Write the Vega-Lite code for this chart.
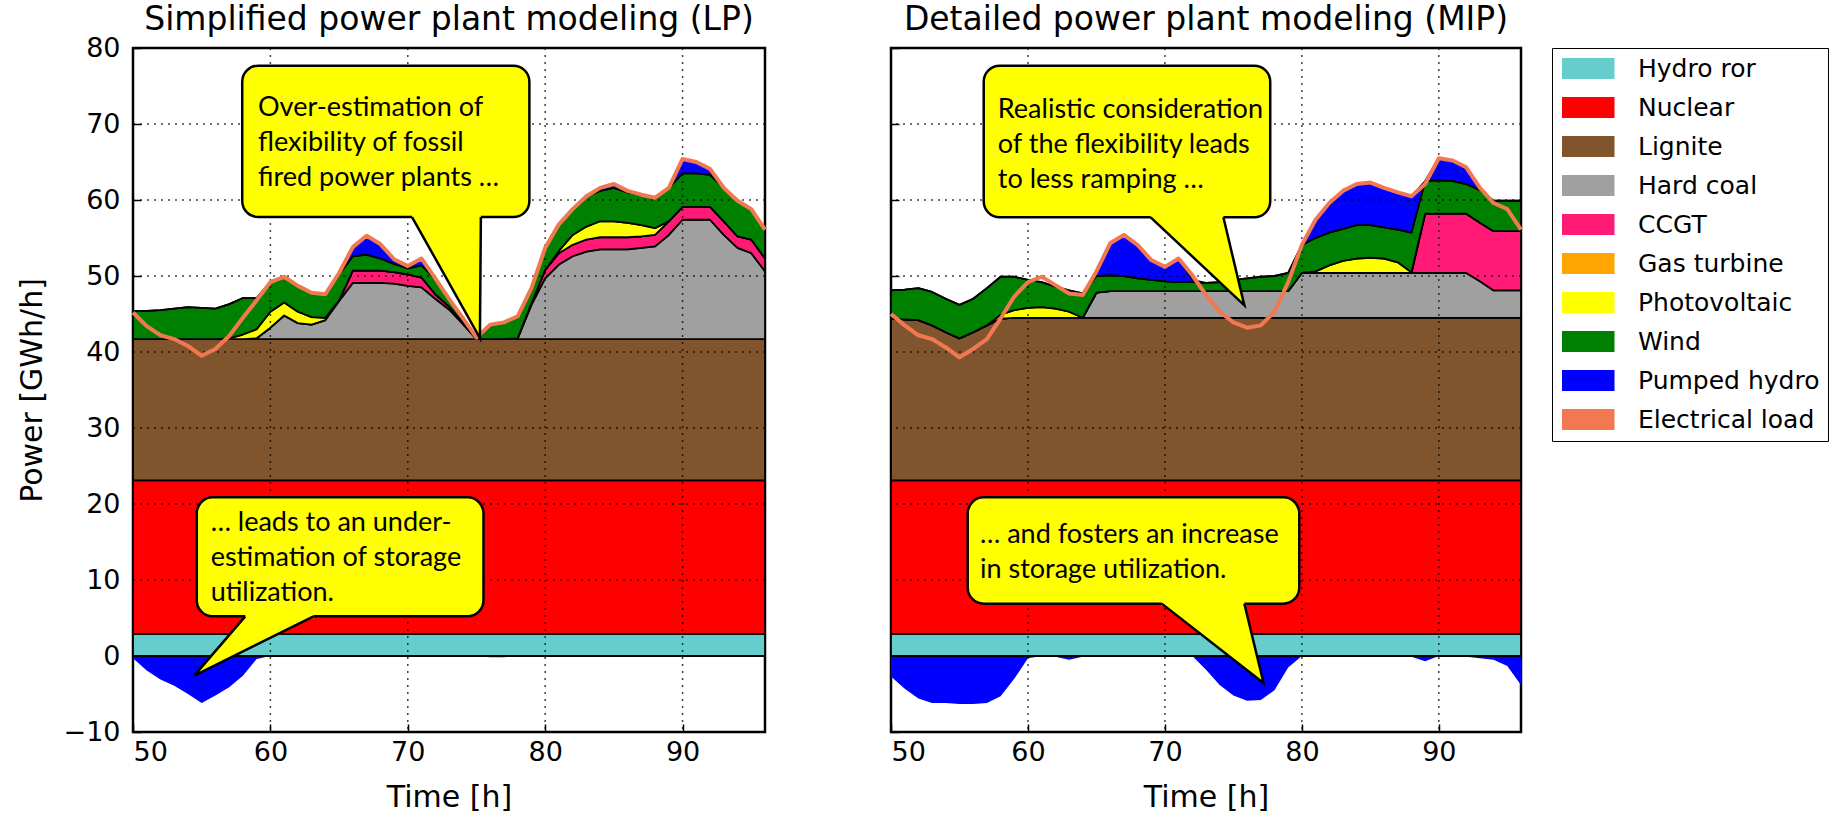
{
"$schema": "https://vega.github.io/schema/vega-lite/v6.json",
"background": "white",
"padding": {"left": 15, "top": 2, "right": 0, "bottom": 0},
"datasets": {
"techs": [
{"key":"hydro","tech":"Hydro ror","ord":1},{"key":"nuclear","tech":"Nuclear","ord":2},{"key":"lignite","tech":"Lignite","ord":3},{"key":"coal","tech":"Hard coal","ord":4},{"key":"ccgt","tech":"CCGT","ord":5},{"key":"pv","tech":"Photovoltaic","ord":7},{"key":"wind","tech":"Wind","ord":8},{"key":"pumped","tech":"Pumped hydro","ord":9}
],
"gen": [
{"panel":"LP","h":50,"hydro":2.9,"nuclear":20.2,"lignite":18.6,"coal":0,"ccgt":0,"pv":0,"wind":3.7,"pumped":0,"neg":-0.3,"load":45.2},
{"panel":"LP","h":51,"hydro":2.9,"nuclear":20.2,"lignite":18.6,"coal":0,"ccgt":0,"pv":0,"wind":3.7,"pumped":0,"neg":-1.9,"load":43.4},
{"panel":"LP","h":52,"hydro":2.9,"nuclear":20.2,"lignite":18.6,"coal":0,"ccgt":0,"pv":0,"wind":3.8,"pumped":0,"neg":-3.1,"load":42.2},
{"panel":"LP","h":53,"hydro":2.9,"nuclear":20.2,"lignite":18.6,"coal":0,"ccgt":0,"pv":0,"wind":4.0,"pumped":0,"neg":-3.9,"load":41.7},
{"panel":"LP","h":54,"hydro":2.9,"nuclear":20.2,"lignite":18.6,"coal":0,"ccgt":0,"pv":0,"wind":4.2,"pumped":0,"neg":-5.0,"load":40.8},
{"panel":"LP","h":55,"hydro":2.9,"nuclear":20.2,"lignite":18.6,"coal":0,"ccgt":0,"pv":0,"wind":4.1,"pumped":0,"neg":-6.2,"load":39.5},
{"panel":"LP","h":56,"hydro":2.9,"nuclear":20.2,"lignite":18.6,"coal":0,"ccgt":0,"pv":0,"wind":4.0,"pumped":0,"neg":-5.2,"load":40.4},
{"panel":"LP","h":57,"hydro":2.9,"nuclear":20.2,"lignite":18.6,"coal":0,"ccgt":0,"pv":0.1,"wind":4.5,"pumped":0,"neg":-4.1,"load":42.1},
{"panel":"LP","h":58,"hydro":2.9,"nuclear":20.2,"lignite":18.6,"coal":0,"ccgt":0,"pv":0.6,"wind":4.8,"pumped":0,"neg":-2.6,"load":44.5},
{"panel":"LP","h":59,"hydro":2.9,"nuclear":20.2,"lignite":18.6,"coal":0.1,"ccgt":0,"pv":1.2,"wind":4.1,"pumped":0,"neg":-0.4,"load":46.8},
{"panel":"LP","h":60,"hydro":2.9,"nuclear":20.2,"lignite":18.6,"coal":1.5,"ccgt":0,"pv":2.1,"wind":3.9,"pumped":0,"neg":0,"load":49.2},
{"panel":"LP","h":61,"hydro":2.9,"nuclear":20.2,"lignite":18.6,"coal":3.1,"ccgt":0,"pv":1.7,"wind":3.4,"pumped":0,"neg":0,"load":49.9},
{"panel":"LP","h":62,"hydro":2.9,"nuclear":20.2,"lignite":18.6,"coal":2.1,"ccgt":0,"pv":1.5,"wind":3.4,"pumped":0,"neg":0,"load":48.7},
{"panel":"LP","h":63,"hydro":2.9,"nuclear":20.2,"lignite":18.6,"coal":1.9,"ccgt":0,"pv":1.0,"wind":3.2,"pumped":0,"neg":0,"load":47.8},
{"panel":"LP","h":64,"hydro":2.9,"nuclear":20.2,"lignite":18.6,"coal":2.5,"ccgt":0,"pv":0.3,"wind":3.1,"pumped":0,"neg":0,"load":47.6},
{"panel":"LP","h":65,"hydro":2.9,"nuclear":20.2,"lignite":18.6,"coal":5.0,"ccgt":0.1,"pv":0,"wind":3.4,"pumped":0.1,"neg":0,"load":50.4},
{"panel":"LP","h":66,"hydro":2.9,"nuclear":20.2,"lignite":18.6,"coal":7.4,"ccgt":1.6,"pv":0,"wind":1.9,"pumped":1.1,"neg":0,"load":53.8},
{"panel":"LP","h":67,"hydro":2.9,"nuclear":20.2,"lignite":18.6,"coal":7.4,"ccgt":1.6,"pv":0,"wind":2.1,"pumped":2.5,"neg":0,"load":55.3},
{"panel":"LP","h":68,"hydro":2.9,"nuclear":20.2,"lignite":18.6,"coal":7.4,"ccgt":1.6,"pv":0,"wind":1.6,"pumped":1.9,"neg":0,"load":54.2},
{"panel":"LP","h":69,"hydro":2.9,"nuclear":20.2,"lignite":18.6,"coal":7.3,"ccgt":1.5,"pv":0,"wind":1.1,"pumped":0.6,"neg":0,"load":52.2},
{"panel":"LP","h":70,"hydro":2.9,"nuclear":20.2,"lignite":18.6,"coal":7.0,"ccgt":1.5,"pv":0,"wind":0.8,"pumped":0.3,"neg":0,"load":51.3},
{"panel":"LP","h":71,"hydro":2.9,"nuclear":20.2,"lignite":18.6,"coal":6.8,"ccgt":1.3,"pv":0,"wind":1.6,"pumped":0.9,"neg":0,"load":52.3},
{"panel":"LP","h":72,"hydro":2.9,"nuclear":20.2,"lignite":18.6,"coal":5.3,"ccgt":0.6,"pv":0,"wind":2.0,"pumped":0.1,"neg":0,"load":49.7},
{"panel":"LP","h":73,"hydro":2.9,"nuclear":20.2,"lignite":18.6,"coal":3.9,"ccgt":0.4,"pv":0,"wind":0.9,"pumped":0.1,"neg":0,"load":47.0},
{"panel":"LP","h":74,"hydro":2.9,"nuclear":20.2,"lignite":18.6,"coal":2.0,"ccgt":0.2,"pv":0,"wind":0.5,"pumped":0.1,"neg":0,"load":44.5},
{"panel":"LP","h":75,"hydro":2.9,"nuclear":20.2,"lignite":18.6,"coal":0,"ccgt":0,"pv":0,"wind":0.2,"pumped":0,"neg":0,"load":41.9},
{"panel":"LP","h":76,"hydro":2.9,"nuclear":20.2,"lignite":18.6,"coal":0,"ccgt":0,"pv":0,"wind":1.9,"pumped":0,"neg":-0.15,"load":43.6},
{"panel":"LP","h":77,"hydro":2.9,"nuclear":20.2,"lignite":18.6,"coal":0,"ccgt":0,"pv":0,"wind":2.2,"pumped":0,"neg":-0.15,"load":43.9},
{"panel":"LP","h":78,"hydro":2.9,"nuclear":20.2,"lignite":18.6,"coal":0.1,"ccgt":0,"pv":0,"wind":2.9,"pumped":0,"neg":0,"load":44.7},
{"panel":"LP","h":79,"hydro":2.9,"nuclear":20.2,"lignite":18.6,"coal":4.5,"ccgt":0.2,"pv":0,"wind":2.0,"pumped":0,"neg":0,"load":48.4},
{"panel":"LP","h":80,"hydro":2.9,"nuclear":20.2,"lignite":18.6,"coal":8.0,"ccgt":1.1,"pv":0,"wind":2.8,"pumped":0.1,"neg":0,"load":53.7},
{"panel":"LP","h":81,"hydro":2.9,"nuclear":20.2,"lignite":18.6,"coal":9.8,"ccgt":1.5,"pv":0.3,"wind":3.5,"pumped":0,"neg":0,"load":56.8},
{"panel":"LP","h":82,"hydro":2.9,"nuclear":20.2,"lignite":18.6,"coal":10.9,"ccgt":1.5,"pv":1.3,"wind":3.4,"pumped":0,"neg":0,"load":58.8},
{"panel":"LP","h":83,"hydro":2.9,"nuclear":20.2,"lignite":18.6,"coal":11.5,"ccgt":1.6,"pv":1.7,"wind":4.0,"pumped":0,"neg":0,"load":60.5},
{"panel":"LP","h":84,"hydro":2.9,"nuclear":20.2,"lignite":18.6,"coal":11.8,"ccgt":1.6,"pv":2.1,"wind":4.0,"pumped":0.4,"neg":0,"load":61.6},
{"panel":"LP","h":85,"hydro":2.9,"nuclear":20.2,"lignite":18.6,"coal":11.8,"ccgt":1.6,"pv":2.1,"wind":4.4,"pumped":0.5,"neg":0,"load":62.1},
{"panel":"LP","h":86,"hydro":2.9,"nuclear":20.2,"lignite":18.6,"coal":11.8,"ccgt":1.6,"pv":1.9,"wind":4.0,"pumped":0.2,"neg":0,"load":61.2},
{"panel":"LP","h":87,"hydro":2.9,"nuclear":20.2,"lignite":18.6,"coal":12.0,"ccgt":1.5,"pv":1.5,"wind":4.0,"pumped":0,"neg":0,"load":60.7},
{"panel":"LP","h":88,"hydro":2.9,"nuclear":20.2,"lignite":18.6,"coal":12.2,"ccgt":1.5,"pv":0.9,"wind":4.0,"pumped":0,"neg":0,"load":60.3},
{"panel":"LP","h":89,"hydro":2.9,"nuclear":20.2,"lignite":18.6,"coal":13.7,"ccgt":1.8,"pv":0,"wind":4.4,"pumped":0,"neg":0,"load":61.6},
{"panel":"LP","h":90,"hydro":2.9,"nuclear":20.2,"lignite":18.6,"coal":15.7,"ccgt":1.7,"pv":0,"wind":4.4,"pumped":1.9,"neg":0,"load":65.4},
{"panel":"LP","h":91,"hydro":2.9,"nuclear":20.2,"lignite":18.6,"coal":15.7,"ccgt":1.7,"pv":0,"wind":4.4,"pumped":1.5,"neg":0,"load":65.0},
{"panel":"LP","h":92,"hydro":2.9,"nuclear":20.2,"lignite":18.6,"coal":15.7,"ccgt":1.7,"pv":0,"wind":4.2,"pumped":0.8,"neg":0,"load":64.1},
{"panel":"LP","h":93,"hydro":2.9,"nuclear":20.2,"lignite":18.6,"coal":13.7,"ccgt":1.8,"pv":0,"wind":4.4,"pumped":0,"neg":0,"load":61.6},
{"panel":"LP","h":94,"hydro":2.9,"nuclear":20.2,"lignite":18.6,"coal":12.0,"ccgt":1.5,"pv":0,"wind":4.7,"pumped":0,"neg":0,"load":59.9},
{"panel":"LP","h":95,"hydro":2.9,"nuclear":20.2,"lignite":18.6,"coal":11.3,"ccgt":1.8,"pv":0,"wind":4.0,"pumped":0,"neg":0,"load":58.8},
{"panel":"LP","h":96,"hydro":2.9,"nuclear":20.2,"lignite":18.6,"coal":8.9,"ccgt":1.7,"pv":0,"wind":3.8,"pumped":0,"neg":0,"load":56.1},
{"panel":"MIP","h":50,"hydro":2.9,"nuclear":20.2,"lignite":21.3,"coal":0,"ccgt":0,"pv":0,"wind":3.7,"pumped":0,"neg":-2.7,"load":45.0},
{"panel":"MIP","h":51,"hydro":2.9,"nuclear":20.2,"lignite":21.2,"coal":0,"ccgt":0,"pv":0,"wind":3.9,"pumped":0,"neg":-4.3,"load":43.5},
{"panel":"MIP","h":52,"hydro":2.9,"nuclear":20.2,"lignite":21.1,"coal":0,"ccgt":0,"pv":0,"wind":4.2,"pumped":0,"neg":-5.6,"load":42.2},
{"panel":"MIP","h":53,"hydro":2.9,"nuclear":20.2,"lignite":20.4,"coal":0,"ccgt":0,"pv":0,"wind":4.4,"pumped":0,"neg":-6.2,"load":41.7},
{"panel":"MIP","h":54,"hydro":2.9,"nuclear":20.2,"lignite":19.5,"coal":0,"ccgt":0,"pv":0,"wind":4.4,"pumped":0,"neg":-6.2,"load":40.6},
{"panel":"MIP","h":55,"hydro":2.9,"nuclear":20.2,"lignite":18.7,"coal":0,"ccgt":0,"pv":0,"wind":4.4,"pumped":0,"neg":-6.3,"load":39.3},
{"panel":"MIP","h":56,"hydro":2.9,"nuclear":20.2,"lignite":19.5,"coal":0,"ccgt":0,"pv":0,"wind":4.4,"pumped":0,"neg":-6.3,"load":40.4},
{"panel":"MIP","h":57,"hydro":2.9,"nuclear":20.2,"lignite":20.4,"coal":0,"ccgt":0,"pv":0,"wind":4.9,"pumped":0,"neg":-6.2,"load":41.7},
{"panel":"MIP","h":58,"hydro":2.9,"nuclear":20.2,"lignite":21.3,"coal":0,"ccgt":0,"pv":0.5,"wind":5.0,"pumped":0,"neg":-5.3,"load":44.4},
{"panel":"MIP","h":59,"hydro":2.9,"nuclear":20.2,"lignite":21.4,"coal":0,"ccgt":0,"pv":1.0,"wind":4.4,"pumped":0,"neg":-3.0,"load":47.3},
{"panel":"MIP","h":60,"hydro":2.9,"nuclear":20.2,"lignite":21.4,"coal":0,"ccgt":0,"pv":1.3,"wind":3.7,"pumped":0,"neg":-0.3,"load":49.2},
{"panel":"MIP","h":61,"hydro":2.9,"nuclear":20.2,"lignite":21.4,"coal":0,"ccgt":0,"pv":1.4,"wind":3.3,"pumped":0,"neg":0,"load":49.9},
{"panel":"MIP","h":62,"hydro":2.9,"nuclear":20.2,"lignite":21.4,"coal":0,"ccgt":0,"pv":1.2,"wind":2.9,"pumped":0,"neg":-0.1,"load":48.8},
{"panel":"MIP","h":63,"hydro":2.9,"nuclear":20.2,"lignite":21.4,"coal":0,"ccgt":0,"pv":0.8,"wind":2.8,"pumped":0,"neg":-0.5,"load":47.7},
{"panel":"MIP","h":64,"hydro":2.9,"nuclear":20.2,"lignite":21.4,"coal":0,"ccgt":0,"pv":0,"wind":3.2,"pumped":0,"neg":-0.1,"load":47.5},
{"panel":"MIP","h":65,"hydro":2.9,"nuclear":20.2,"lignite":21.4,"coal":3.3,"ccgt":0,"pv":0,"wind":2.2,"pumped":0.6,"neg":0,"load":50.6},
{"panel":"MIP","h":66,"hydro":2.9,"nuclear":20.2,"lignite":21.4,"coal":3.5,"ccgt":0,"pv":0,"wind":2.1,"pumped":4.2,"neg":0,"load":54.3},
{"panel":"MIP","h":67,"hydro":2.9,"nuclear":20.2,"lignite":21.4,"coal":3.5,"ccgt":0,"pv":0,"wind":2.0,"pumped":5.4,"neg":0,"load":55.4},
{"panel":"MIP","h":68,"hydro":2.9,"nuclear":20.2,"lignite":21.4,"coal":3.5,"ccgt":0,"pv":0,"wind":1.7,"pumped":4.4,"neg":0,"load":54.1},
{"panel":"MIP","h":69,"hydro":2.9,"nuclear":20.2,"lignite":21.4,"coal":3.5,"ccgt":0,"pv":0,"wind":1.5,"pumped":2.6,"neg":0,"load":52.1},
{"panel":"MIP","h":70,"hydro":2.9,"nuclear":20.2,"lignite":21.4,"coal":3.5,"ccgt":0,"pv":0,"wind":1.3,"pumped":1.9,"neg":0,"load":51.2},
{"panel":"MIP","h":71,"hydro":2.9,"nuclear":20.2,"lignite":21.4,"coal":3.5,"ccgt":0,"pv":0,"wind":1.2,"pumped":3.1,"neg":0,"load":52.3},
{"panel":"MIP","h":72,"hydro":2.9,"nuclear":20.2,"lignite":21.4,"coal":3.5,"ccgt":0,"pv":0,"wind":1.2,"pumped":0.3,"neg":0,"load":50.1},
{"panel":"MIP","h":73,"hydro":2.9,"nuclear":20.2,"lignite":21.4,"coal":3.5,"ccgt":0,"pv":0,"wind":1.1,"pumped":0,"neg":-1.8,"load":47.5},
{"panel":"MIP","h":74,"hydro":2.9,"nuclear":20.2,"lignite":21.4,"coal":3.5,"ccgt":0,"pv":0,"wind":1.2,"pumped":0,"neg":-3.8,"load":45.3},
{"panel":"MIP","h":75,"hydro":2.9,"nuclear":20.2,"lignite":21.4,"coal":3.5,"ccgt":0,"pv":0,"wind":1.5,"pumped":0,"neg":-5.2,"load":43.9},
{"panel":"MIP","h":76,"hydro":2.9,"nuclear":20.2,"lignite":21.4,"coal":3.5,"ccgt":0,"pv":0,"wind":1.7,"pumped":0,"neg":-5.9,"load":43.2},
{"panel":"MIP","h":77,"hydro":2.9,"nuclear":20.2,"lignite":21.4,"coal":3.5,"ccgt":0,"pv":0,"wind":1.9,"pumped":0,"neg":-5.8,"load":43.5},
{"panel":"MIP","h":78,"hydro":2.9,"nuclear":20.2,"lignite":21.4,"coal":3.5,"ccgt":0,"pv":0,"wind":2.0,"pumped":0,"neg":-4.5,"load":45.3},
{"panel":"MIP","h":79,"hydro":2.9,"nuclear":20.2,"lignite":21.4,"coal":3.5,"ccgt":0,"pv":0,"wind":2.4,"pumped":0,"neg":-1.5,"load":49.2},
{"panel":"MIP","h":80,"hydro":2.9,"nuclear":20.2,"lignite":21.4,"coal":5.9,"ccgt":0,"pv":0,"wind":3.7,"pumped":0,"neg":0,"load":54.1},
{"panel":"MIP","h":81,"hydro":2.9,"nuclear":20.2,"lignite":21.4,"coal":5.9,"ccgt":0,"pv":0.2,"wind":4.4,"pumped":2.4,"neg":0,"load":57.4},
{"panel":"MIP","h":82,"hydro":2.9,"nuclear":20.2,"lignite":21.4,"coal":5.9,"ccgt":0,"pv":1.0,"wind":4.3,"pumped":3.9,"neg":0,"load":59.6},
{"panel":"MIP","h":83,"hydro":2.9,"nuclear":20.2,"lignite":21.4,"coal":5.9,"ccgt":0,"pv":1.6,"wind":4.2,"pumped":5.0,"neg":0,"load":61.2},
{"panel":"MIP","h":84,"hydro":2.9,"nuclear":20.2,"lignite":21.4,"coal":5.9,"ccgt":0,"pv":1.9,"wind":4.4,"pumped":5.4,"neg":0,"load":62.1},
{"panel":"MIP","h":85,"hydro":2.9,"nuclear":20.2,"lignite":21.4,"coal":5.9,"ccgt":0,"pv":2.0,"wind":4.3,"pumped":5.6,"neg":0,"load":62.3},
{"panel":"MIP","h":86,"hydro":2.9,"nuclear":20.2,"lignite":21.4,"coal":5.9,"ccgt":0,"pv":1.9,"wind":4.1,"pumped":5.2,"neg":0,"load":61.6},
{"panel":"MIP","h":87,"hydro":2.9,"nuclear":20.2,"lignite":21.4,"coal":5.9,"ccgt":0,"pv":1.4,"wind":4.3,"pumped":4.9,"neg":0,"load":61.0},
{"panel":"MIP","h":88,"hydro":2.9,"nuclear":20.2,"lignite":21.4,"coal":5.9,"ccgt":0,"pv":0.1,"wind":5.2,"pumped":4.8,"neg":-0.1,"load":60.5},
{"panel":"MIP","h":89,"hydro":2.9,"nuclear":20.2,"lignite":21.4,"coal":5.9,"ccgt":7.8,"pv":0,"wind":4.3,"pumped":0,"neg":-0.7,"load":62.1},
{"panel":"MIP","h":90,"hydro":2.9,"nuclear":20.2,"lignite":21.4,"coal":5.9,"ccgt":7.8,"pv":0,"wind":4.4,"pumped":2.9,"neg":0,"load":65.5},
{"panel":"MIP","h":91,"hydro":2.9,"nuclear":20.2,"lignite":21.4,"coal":5.9,"ccgt":7.8,"pv":0,"wind":4.3,"pumped":2.7,"neg":0,"load":65.2},
{"panel":"MIP","h":92,"hydro":2.9,"nuclear":20.2,"lignite":21.4,"coal":5.9,"ccgt":7.8,"pv":0,"wind":3.9,"pumped":2.2,"neg":-0.1,"load":64.3},
{"panel":"MIP","h":93,"hydro":2.9,"nuclear":20.2,"lignite":21.4,"coal":4.8,"ccgt":7.7,"pv":0,"wind":4.3,"pumped":0,"neg":-0.3,"load":61.6},
{"panel":"MIP","h":94,"hydro":2.9,"nuclear":20.2,"lignite":21.4,"coal":3.6,"ccgt":7.8,"pv":0,"wind":4.0,"pumped":0,"neg":-0.5,"load":59.6},
{"panel":"MIP","h":95,"hydro":2.9,"nuclear":20.2,"lignite":21.4,"coal":3.6,"ccgt":7.8,"pv":0,"wind":4.0,"pumped":0,"neg":-1.3,"load":58.8},
{"panel":"MIP","h":96,"hydro":2.9,"nuclear":20.2,"lignite":21.4,"coal":3.6,"ccgt":7.8,"pv":0,"wind":4.0,"pumped":0,"neg":-3.8,"load":56.1}
],
"gridx": [{"g":60},{"g":70},{"g":80},{"g":90}],
"gridy": [{"g":-10},{"g":10},{"g":20},{"g":30},{"g":40},{"g":50},{"g":60},{"g":70}],
"bubbles": [
{"panel":"LP","id":"a","bx":57.95,"bx2":78.85,"by":57.76,"by2":77.67,"tx1":70.31,"tx2":75.32},
{"panel":"LP","id":"b","bx":54.64,"bx2":75.51,"by":5.22,"by2":20.88,"tx1":58.17,"tx2":63.14},
{"panel":"MIP","id":"c","bx":56.77,"bx2":77.69,"by":57.72,"by2":77.67,"tx1":68.96,"tx2":74.27},
{"panel":"MIP","id":"d","bx":55.6,"bx2":79.81,"by":6.89,"by2":20.88,"tx1":69.77,"tx2":75.8}
],
"tailArea": [
{"panel":"LP","id":"a","ty":57.76,"txa":70.31,"txb":75.32},{"panel":"LP","id":"a","ty":41.84,"txa":75.25,"txb":75.25},
{"panel":"LP","id":"b","ty":5.22,"txa":58.17,"txb":63.14},{"panel":"LP","id":"b","ty":-2.59,"txa":54.46,"txb":54.46},
{"panel":"MIP","id":"c","ty":57.72,"txa":68.96,"txb":74.27},{"panel":"MIP","id":"c","ty":46.14,"txa":75.8,"txb":75.8},
{"panel":"MIP","id":"d","ty":6.89,"txa":69.77,"txb":75.8},{"panel":"MIP","id":"d","ty":-3.55,"txa":77.2,"txb":77.2}
],
"tailLine": [
{"panel":"LP","id":"a","seq":1,"lx":70.31,"ly":57.76},{"panel":"LP","id":"a","seq":2,"lx":75.25,"ly":41.84},{"panel":"LP","id":"a","seq":3,"lx":75.32,"ly":57.76},
{"panel":"LP","id":"b","seq":1,"lx":58.17,"ly":5.22},{"panel":"LP","id":"b","seq":2,"lx":54.46,"ly":-2.59},{"panel":"LP","id":"b","seq":3,"lx":63.14,"ly":5.22},
{"panel":"MIP","id":"c","seq":1,"lx":68.96,"ly":57.72},{"panel":"MIP","id":"c","seq":2,"lx":75.8,"ly":46.14},{"panel":"MIP","id":"c","seq":3,"lx":74.27,"ly":57.72},
{"panel":"MIP","id":"d","seq":1,"lx":69.77,"ly":6.89},{"panel":"MIP","id":"d","seq":2,"lx":77.2,"ly":-3.55},{"panel":"MIP","id":"d","seq":3,"lx":75.8,"ly":6.89}
],
"notes": [
{"panel":"LP","nx":59.1,"ny":71.0,"lines":["Over-estimation of","flexibility of fossil","fired power plants …"]},
{"panel":"LP","nx":55.65,"ny":16.4,"lines":["… leads to an under-","estimation of storage","utilization."]},
{"panel":"MIP","nx":57.8,"ny":70.8,"lines":["Realistic consideration","of the flexibility leads","to less ramping …"]},
{"panel":"MIP","nx":56.5,"ny":14.9,"lines":["… and fosters an increase","in storage utilization."]}
]
},
"hconcat": [
{
"title": {"text": "Simplified power plant modeling (LP)"},
"width": 632, "height": 684,
"layer": [
{"data": {"name": "gen"}, "transform": [{"filter": "datum.panel === 'LP'"}],
 "mark": {"type": "area", "color": "#0000ff", "opacity": 1},
 "encoding": {"x": {"field": "h", "type": "quantitative", "scale": {"domain": [50, 96], "nice": false, "zero": false}},
  "y": {"field": "neg", "type": "quantitative", "stack": null, "scale": {"domain": [-10, 80], "nice": false, "zero": false}}}},
{"data": {"name": "gen"},
 "transform": [{"filter": "datum.panel === 'LP'"}, {"fold": ["hydro","nuclear","lignite","coal","ccgt","pv","wind","pumped"], "as": ["key","val"]}, {"lookup": "key", "from": {"data": {"name": "techs"}, "key": "key", "fields": ["tech","ord"]}}],
 "mark": {"type": "area", "stroke": "black", "strokeWidth": 1.8, "opacity": 1, "strokeJoin": "round"},
 "encoding": {
  "x": {"field": "h", "type": "quantitative", "scale": {"domain": [50, 96], "nice": false, "zero": false}, "axis": {"title": "Time [h]", "values": [50,60,70,80,90], "labelPadding": 15, "titlePadding": 17}},
  "y": {"field": "val", "type": "quantitative", "stack": "zero", "scale": {"domain": [-10, 80], "nice": false, "zero": false}, "axis": {"title": "Power [GWh/h]", "values": [-10,0,10,20,30,40,50,60,70,80], "labelPadding": 21, "titlePadding": 16}},
  "color": {"field": "tech", "type": "nominal",
   "scale": {"domain": ["Hydro ror","Nuclear","Lignite","Hard coal","CCGT","Gas turbine","Photovoltaic","Wind","Pumped hydro","Electrical load"],
             "range": ["#66cccc","#ff0000","#80552e","#a0a0a0","#ff1a75","#ffa500","#ffff00","#008000","#0000ff","#f27852"]},
   "legend": {"title": null, "orient": "right", "offset": 27, "symbolType": "M-1,-1H4V1H-1Z", "symbolSize": 441, "symbolStrokeWidth": 0, "symbolOpacity": 1, "labelOffset": 53, "rowPadding": 13, "padding": 8, "strokeColor": "black", "fillColor": "white", "labelFont": "DejaVu Sans", "labelFontSize": 25, "labelColor": "black", "labelLimit": 400,
     "encode": {"symbols": {"update": {"shape": {"signal": "datum.value === 'Electrical load' ? 'M-1,-0.28H4V0.28H-1Z' : 'M-1,-1H4V1H-1Z'"}, "strokeWidth": {"value": 0}}}, "legend": {"update": {"strokeWidth": {"value": 1.5}}}}}},
  "order": {"field": "ord", "type": "quantitative"}
 }},
{"data": {"name": "gridx"}, "mark": {"type": "rule", "color": "black", "strokeDash": [2, 5], "strokeWidth": 1.5, "opacity": 0.75},
 "encoding": {"x": {"field": "g", "type": "quantitative", "scale": {"domain": [50, 96], "nice": false, "zero": false}}}},
{"data": {"name": "gridy"}, "mark": {"type": "rule", "color": "black", "strokeDash": [2, 5], "strokeWidth": 1.5, "opacity": 0.75},
 "encoding": {"y": {"field": "g", "type": "quantitative", "scale": {"domain": [-10, 80], "nice": false, "zero": false}}}},
{"data": {"name": "gen"}, "transform": [{"filter": "datum.panel === 'LP'"}],
 "mark": {"type": "line", "color": "#f27852", "strokeWidth": 4, "strokeJoin": "round"},
 "encoding": {"x": {"field": "h", "type": "quantitative", "scale": {"domain": [50, 96], "nice": false, "zero": false}},
  "y": {"field": "load", "type": "quantitative", "scale": {"domain": [-10, 80], "nice": false, "zero": false}}}},
{"data": {"name": "bubbles"}, "transform": [{"filter": "datum.panel === 'LP'"}],
 "mark": {"type": "rect", "fill": "#ffff00", "stroke": "black", "strokeWidth": 2.5, "cornerRadius": 16},
 "encoding": {"x": {"field": "bx", "type": "quantitative", "scale": {"domain": [50, 96], "nice": false, "zero": false}}, "x2": {"field": "bx2"},
  "y": {"field": "by", "type": "quantitative", "scale": {"domain": [-10, 80], "nice": false, "zero": false}}, "y2": {"field": "by2"}}},
{"data": {"name": "tailArea"}, "transform": [{"filter": "datum.panel === 'LP'"}],
 "mark": {"type": "area", "orient": "horizontal", "fill": "#ffff00", "opacity": 1},
 "encoding": {"y": {"field": "ty", "type": "quantitative", "scale": {"domain": [-10, 80], "nice": false, "zero": false}},
  "x": {"field": "txa", "type": "quantitative", "stack": null, "scale": {"domain": [50, 96], "nice": false, "zero": false}}, "x2": {"field": "txb"}, "detail": {"field": "id"}}},
{"data": {"name": "bubbles"}, "transform": [{"filter": "datum.panel === 'LP'"}],
 "mark": {"type": "rule", "color": "#ffff00", "strokeWidth": 4},
 "encoding": {"x": {"field": "tx1", "type": "quantitative", "scale": {"domain": [50, 96], "nice": false, "zero": false}}, "x2": {"field": "tx2"},
  "y": {"field": "by", "type": "quantitative", "scale": {"domain": [-10, 80], "nice": false, "zero": false}}}},
{"data": {"name": "tailLine"}, "transform": [{"filter": "datum.panel === 'LP'"}],
 "mark": {"type": "line", "color": "black", "strokeWidth": 2.5, "strokeJoin": "miter"},
 "encoding": {"x": {"field": "lx", "type": "quantitative", "scale": {"domain": [50, 96], "nice": false, "zero": false}},
  "y": {"field": "ly", "type": "quantitative", "scale": {"domain": [-10, 80], "nice": false, "zero": false}}, "order": {"field": "seq"}, "detail": {"field": "id"}}},
{"data": {"name": "notes"}, "transform": [{"filter": "datum.panel === 'LP'"}],
 "mark": {"type": "text", "align": "left", "baseline": "alphabetic", "font": "Lato", "fontSize": 27, "lineHeight": 35, "color": "black"},
 "encoding": {"x": {"field": "nx", "type": "quantitative", "scale": {"domain": [50, 96], "nice": false, "zero": false}},
  "y": {"field": "ny", "type": "quantitative", "scale": {"domain": [-10, 80], "nice": false, "zero": false}}, "text": {"field": "lines"}}}
]
},
{
"title": {"text": "Detailed power plant modeling (MIP)"},
"width": 630, "height": 684,
"layer": [
{"data": {"name": "gen"}, "transform": [{"filter": "datum.panel === 'MIP'"}],
 "mark": {"type": "area", "color": "#0000ff", "opacity": 1},
 "encoding": {"x": {"field": "h", "type": "quantitative", "scale": {"domain": [50, 96], "nice": false, "zero": false}},
  "y": {"field": "neg", "type": "quantitative", "stack": null, "scale": {"domain": [-10, 80], "nice": false, "zero": false}}}},
{"data": {"name": "gen"},
 "transform": [{"filter": "datum.panel === 'MIP'"}, {"fold": ["hydro","nuclear","lignite","coal","ccgt","pv","wind","pumped"], "as": ["key","val"]}, {"lookup": "key", "from": {"data": {"name": "techs"}, "key": "key", "fields": ["tech","ord"]}}],
 "mark": {"type": "area", "stroke": "black", "strokeWidth": 1.8, "opacity": 1, "strokeJoin": "round"},
 "encoding": {
  "x": {"field": "h", "type": "quantitative", "scale": {"domain": [50, 96], "nice": false, "zero": false}, "axis": {"title": "Time [h]", "values": [50,60,70,80,90], "labelPadding": 15, "titlePadding": 17}},
  "y": {"field": "val", "type": "quantitative", "stack": "zero", "scale": {"domain": [-10, 80], "nice": false, "zero": false}, "axis": {"title": null, "labelOpacity": 0, "labelPadding": 21, "values": [-10,0,10,20,30,40,50,60,70,80]}},
  "color": {"field": "tech", "type": "nominal",
   "scale": {"domain": ["Hydro ror","Nuclear","Lignite","Hard coal","CCGT","Gas turbine","Photovoltaic","Wind","Pumped hydro","Electrical load"],
             "range": ["#66cccc","#ff0000","#80552e","#a0a0a0","#ff1a75","#ffa500","#ffff00","#008000","#0000ff","#f27852"]},
   "legend": {"title": null, "orient": "right", "offset": 27, "symbolType": "M-1,-1H4V1H-1Z", "symbolSize": 441, "symbolStrokeWidth": 0, "symbolOpacity": 1, "labelOffset": 53, "rowPadding": 13, "padding": 8, "strokeColor": "black", "fillColor": "white", "labelFont": "DejaVu Sans", "labelFontSize": 25, "labelColor": "black", "labelLimit": 400,
     "encode": {"symbols": {"update": {"shape": {"signal": "datum.value === 'Electrical load' ? 'M-1,-0.28H4V0.28H-1Z' : 'M-1,-1H4V1H-1Z'"}, "strokeWidth": {"value": 0}}}, "legend": {"update": {"strokeWidth": {"value": 1.5}}}}}},
  "order": {"field": "ord", "type": "quantitative"}
 }},
{"data": {"name": "gridx"}, "mark": {"type": "rule", "color": "black", "strokeDash": [2, 5], "strokeWidth": 1.5, "opacity": 0.75},
 "encoding": {"x": {"field": "g", "type": "quantitative", "scale": {"domain": [50, 96], "nice": false, "zero": false}}}},
{"data": {"name": "gridy"}, "mark": {"type": "rule", "color": "black", "strokeDash": [2, 5], "strokeWidth": 1.5, "opacity": 0.75},
 "encoding": {"y": {"field": "g", "type": "quantitative", "scale": {"domain": [-10, 80], "nice": false, "zero": false}}}},
{"data": {"name": "gen"}, "transform": [{"filter": "datum.panel === 'MIP'"}],
 "mark": {"type": "line", "color": "#f27852", "strokeWidth": 4, "strokeJoin": "round"},
 "encoding": {"x": {"field": "h", "type": "quantitative", "scale": {"domain": [50, 96], "nice": false, "zero": false}},
  "y": {"field": "load", "type": "quantitative", "scale": {"domain": [-10, 80], "nice": false, "zero": false}}}},
{"data": {"name": "bubbles"}, "transform": [{"filter": "datum.panel === 'MIP'"}],
 "mark": {"type": "rect", "fill": "#ffff00", "stroke": "black", "strokeWidth": 2.5, "cornerRadius": 16},
 "encoding": {"x": {"field": "bx", "type": "quantitative", "scale": {"domain": [50, 96], "nice": false, "zero": false}}, "x2": {"field": "bx2"},
  "y": {"field": "by", "type": "quantitative", "scale": {"domain": [-10, 80], "nice": false, "zero": false}}, "y2": {"field": "by2"}}},
{"data": {"name": "tailArea"}, "transform": [{"filter": "datum.panel === 'MIP'"}],
 "mark": {"type": "area", "orient": "horizontal", "fill": "#ffff00", "opacity": 1},
 "encoding": {"y": {"field": "ty", "type": "quantitative", "scale": {"domain": [-10, 80], "nice": false, "zero": false}},
  "x": {"field": "txa", "type": "quantitative", "stack": null, "scale": {"domain": [50, 96], "nice": false, "zero": false}}, "x2": {"field": "txb"}, "detail": {"field": "id"}}},
{"data": {"name": "bubbles"}, "transform": [{"filter": "datum.panel === 'MIP'"}],
 "mark": {"type": "rule", "color": "#ffff00", "strokeWidth": 4},
 "encoding": {"x": {"field": "tx1", "type": "quantitative", "scale": {"domain": [50, 96], "nice": false, "zero": false}}, "x2": {"field": "tx2"},
  "y": {"field": "by", "type": "quantitative", "scale": {"domain": [-10, 80], "nice": false, "zero": false}}}},
{"data": {"name": "tailLine"}, "transform": [{"filter": "datum.panel === 'MIP'"}],
 "mark": {"type": "line", "color": "black", "strokeWidth": 2.5, "strokeJoin": "miter"},
 "encoding": {"x": {"field": "lx", "type": "quantitative", "scale": {"domain": [50, 96], "nice": false, "zero": false}},
  "y": {"field": "ly", "type": "quantitative", "scale": {"domain": [-10, 80], "nice": false, "zero": false}}, "order": {"field": "seq"}, "detail": {"field": "id"}}},
{"data": {"name": "notes"}, "transform": [{"filter": "datum.panel === 'MIP'"}],
 "mark": {"type": "text", "align": "left", "baseline": "alphabetic", "font": "Lato", "fontSize": 27, "lineHeight": 35, "color": "black"},
 "encoding": {"x": {"field": "nx", "type": "quantitative", "scale": {"domain": [50, 96], "nice": false, "zero": false}},
  "y": {"field": "ny", "type": "quantitative", "scale": {"domain": [-10, 80], "nice": false, "zero": false}}, "text": {"field": "lines"}}}
]
}
],
"spacing": 50,
"config": {
 "view": {"stroke": "black", "strokeWidth": 2.5},
 "font": "DejaVu Sans",
 "axis": {"labelFont": "DejaVu Sans", "labelFontSize": 27, "labelColor": "black", "titleFont": "DejaVu Sans", "titleFontSize": 30, "titleFontWeight": "normal", "titleColor": "black", "grid": false, "domain": false, "ticks": true, "tickSize": -8, "tickWidth": 1.5, "tickColor": "black", "zindex": 1},
 "title": {"font": "DejaVu Sans", "fontSize": 33, "fontWeight": "normal", "color": "black", "frame": "group", "baseline": "alphabetic", "offset": -3}
}
}
